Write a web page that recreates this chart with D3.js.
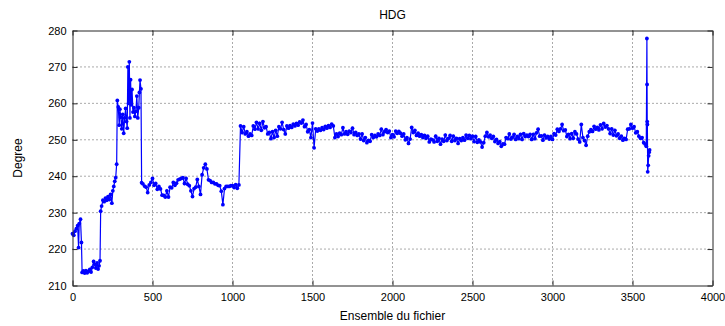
<!DOCTYPE html>
<html>
<head>
<meta charset="utf-8">
<script src="https://cdn.jsdelivr.net/npm/d3@7"></script>
<style>
  html, body { margin: 0; padding: 0; background: #fff; }
  svg { display: block; font-family: "Liberation Sans", Arial, sans-serif; }
</style>
</head>
<body>
<svg id="chart" width="725" height="326"></svg>
<script>
// ---- Data ----
const chartTitle = "HDG";
const xLabel = "Ensemble du fichier";
const yLabel = "Degree";
const xTicks = [0, 500, 1000, 1500, 2000, 2500, 3000, 3500, 4000];
const yTicks = [210, 220, 230, 240, 250, 260, 270, 280];

// Start of record: [sample index, heading in degrees]
const hdgStart = [
  [0,224.2],[8,223.8],[16,224.9],[24,225.6],[32,226.4],[38,220.4],[42,227.0],[50,228.2],[56,221.8],
  [60,213.6],[68,214.0],[76,213.4],[84,214.1],[92,213.5],[100,213.9],[108,214.4],[116,213.7],[124,215.0],
  [132,216.6],[138,215.8],[146,214.8],[154,216.2],[160,214.5],[166,215.4],[172,216.8],[176,230.4],
  [182,231.8],[190,233.4],[198,233.0],[206,234.0],[214,233.4],[222,234.4],[230,233.6],[238,235.0],
  [246,232.6],[252,236.0],[258,237.2],[264,238.6],[270,239.6],[276,243.3],[280,260.8],[286,259.0],
  [292,254.0],[296,258.4],[302,256.2],[308,253.0],[314,257.0],[320,251.8],[326,256.0],[332,258.6],
  [338,255.0],[342,253.2],[346,270.0],[350,260.0],[355,271.4],[359,256.0],[363,266.5],[367,259.6],
  [372,263.8],[378,257.6],[384,258.8],[390,256.4],[396,257.8],[402,262.0],[408,256.0],[414,258.8],
  [418,263.0],[422,266.4],[428,264.0],[432,238.2]
];

// Plateau around 237 deg, one value every 10 samples from index 440
const plateauStart = 440;
const plateauValues = [
  237.9, 237.3, 237.0, 235.5, 237.6, 238.3, 239.4, 237.5, 238.0, 236.4,
  237.2, 236.5, 234.8, 234.7, 234.3, 236.0, 234.3, 237.0, 236.8, 238.3,
  237.5, 238.1, 239.0, 239.2, 239.4, 239.6, 238.0, 239.4, 237.8, 237.4,
  236.0, 234.4, 236.6, 237.0, 239.1, 237.2, 235.0, 240.4, 242.3, 243.3,
  242.0, 239.0, 238.8, 238.3, 238.3, 237.9, 237.9, 237.5, 237.4, 235.9,
  232.2, 236.6, 237.2, 237.2, 237.2, 237.4, 237.4, 236.9, 237.7, 236.7,
  237.6
];

// Cruise around 251 deg, one value every 10 samples from index 1050
const cruiseStart = 1050;
const cruiseValues = [
  253.8, 252.0, 253.6, 251.6, 252.2, 251.0, 251.6, 251.2, 253.8, 252.9,
  254.8, 253.0, 254.5, 252.6, 255.0, 253.3, 253.6, 251.6, 252.0, 250.3,
  252.2, 250.6, 252.6, 251.0, 253.6, 253.0, 254.8, 252.8, 251.6, 253.8,
  253.2, 253.9, 253.4, 254.3, 253.8, 254.5, 254.0, 254.9, 254.6, 255.4,
  253.6, 254.2, 252.2, 252.8, 250.6, 254.6, 247.8, 253.0, 252.4, 253.0,
  252.6, 253.3, 252.8, 253.7, 253.2, 253.9, 253.4, 254.3, 253.8, 250.6,
  251.6, 250.9, 251.8, 251.4, 253.3, 251.6, 252.2, 251.5, 252.4, 252.0,
  253.2, 251.4, 252.0, 251.2, 251.6, 250.2, 251.6, 249.8, 250.6, 249.2,
  249.8, 249.6, 251.4, 250.6, 251.2, 250.8, 251.6, 251.2, 252.9, 251.4,
  252.2, 252.8, 252.0, 252.4, 250.6, 251.4, 250.8, 252.4, 251.8, 252.3,
  251.8, 251.0, 251.6, 250.0, 250.6, 249.0, 250.2, 253.4, 252.0, 252.6,
  251.2, 251.8, 251.0, 251.4, 250.6, 251.2, 250.4, 251.0, 249.4, 250.2,
  250.0, 249.4, 251.0, 249.6, 250.4, 248.8, 250.2, 249.6, 251.3, 249.8,
  250.4, 251.2, 249.6, 251.0, 249.8, 250.4, 249.0, 250.3, 249.8, 250.6,
  249.9, 251.3, 250.4, 251.2, 250.3, 251.0, 249.5, 250.9, 249.3, 250.0,
  249.4, 248.0, 249.2, 251.0, 252.0, 250.8, 251.3, 250.4, 250.9, 249.5,
  250.1, 249.0, 249.5, 248.2, 248.9, 248.8, 250.6, 250.3, 251.6, 250.2,
  250.7, 251.5, 250.1, 250.9, 250.3, 251.5, 250.1, 251.7, 250.9, 251.3,
  250.9, 251.5, 250.1, 251.5, 250.3, 251.9, 252.9, 251.0, 251.1, 249.9,
  251.3, 250.5, 250.9, 250.2, 250.9, 250.1, 251.7, 251.3, 252.9, 252.3,
  253.0, 254.2, 252.5, 252.7, 250.9, 251.5, 250.3, 251.7, 250.4, 252.2,
  251.6, 250.2, 249.4, 254.2, 250.6, 249.8, 248.5, 251.0, 252.2, 252.8,
  252.3, 253.7, 252.9, 253.4, 252.7, 254.1, 253.0, 254.5, 253.5, 253.9,
  253.0, 251.7, 253.0, 251.3, 252.6, 251.1, 251.6, 250.4, 251.0, 249.9,
  250.4, 250.1, 252.9, 253.0, 254.2, 253.2, 253.6, 251.9, 252.2, 251.0,
  250.4, 250.6, 249.2, 248.8
];
const sampleStep = 10;

// End of record with the spike: [sample index, heading in degrees]
const hdgEnd = [
  [3586,248.2],[3590,277.8],[3591,265.2],[3592,255.0],[3593,254.2],[3595,241.2],
  [3598,243.0],[3601,245.6],[3604,246.6],[3607,247.2]
];

// ---- Build the series ----
const series = [
  ...hdgStart.map(([i, v]) => ({ i, v })),
  ...plateauValues.map((v, k) => ({ i: plateauStart + k * sampleStep, v })),
  ...cruiseValues.map((v, k) => ({ i: cruiseStart + k * sampleStep, v })),
  ...hdgEnd.map(([i, v]) => ({ i, v }))
];

// ---- Layout ----
const svg = d3.select("#chart");
const L = 72.5, T = 30.5, W = 640, H = 255;
const x = d3.scaleLinear().domain([0, 4000]).range([L, L + W]);
const y = d3.scaleLinear().domain([210, 280]).range([T + H, T]);
const axisColor = "#262626";

// Grid (dotted)
const grid = svg.append("g");
grid.selectAll("line.gx").data(xTicks.slice(1, -1)).join("line")
  .attr("x1", d => x(d)).attr("x2", d => x(d))
  .attr("y1", T).attr("y2", T + H)
  .attr("stroke", "#555").attr("stroke-width", 1).attr("stroke-dasharray", "1,3");
grid.selectAll("line.gy").data(yTicks.slice(1, -1)).join("line")
  .attr("x1", L).attr("x2", L + W)
  .attr("y1", d => y(d)).attr("y2", d => y(d))
  .attr("stroke", "#555").attr("stroke-width", 1).attr("stroke-dasharray", "1,3");

// Data line and markers
const line = d3.line().x(d => x(d.i)).y(d => y(d.v));
svg.append("path").datum(series)
  .attr("d", line).attr("fill", "none")
  .attr("stroke", "#0000ff").attr("stroke-width", 1.2);
svg.append("g").selectAll("circle").data(series).join("circle")
  .attr("cx", d => x(d.i)).attr("cy", d => y(d.v))
  .attr("r", 1.9).attr("fill", "#0000ff");

// Axes (MATLAB style: ticks inward on all sides, box)
const tickLen = 5;
const fmt = d3.format("d");
const axB = d3.axisBottom(x).tickValues(xTicks).tickFormat(fmt).tickSizeInner(-tickLen).tickSizeOuter(0).tickPadding(8);
const axT = d3.axisTop(x).tickValues(xTicks).tickSizeInner(-tickLen).tickSizeOuter(0).tickFormat("");
const axL = d3.axisLeft(y).tickValues(yTicks).tickFormat(fmt).tickSizeInner(-tickLen).tickSizeOuter(0).tickPadding(6);
const axR = d3.axisRight(y).tickValues(yTicks).tickSizeInner(-tickLen).tickSizeOuter(0).tickFormat("");

function styleAxis(g) {
  g.selectAll("path").attr("stroke", axisColor);
  g.selectAll("line").attr("stroke", axisColor);
  g.selectAll("text").attr("fill", "#000")
    .style("font-family", "'Liberation Sans', Arial, sans-serif")
    .style("font-size", "11px");
}
svg.append("g").attr("transform", `translate(0,${T + H})`).call(axB).call(styleAxis);
svg.append("g").attr("transform", `translate(0,${T})`).call(axT).call(styleAxis);
svg.append("g").attr("transform", `translate(${L},0)`).call(axL).call(styleAxis);
svg.append("g").attr("transform", `translate(${L + W},0)`).call(axR).call(styleAxis);

// Titles
svg.append("text").attr("x", L + W / 2).attr("y", 19)
  .attr("text-anchor", "middle").attr("font-size", 12).text(chartTitle);
svg.append("text").attr("x", L + W / 2).attr("y", 320)
  .attr("text-anchor", "middle").attr("font-size", 12).text(xLabel);
svg.append("text").attr("transform", `translate(22,${T + H / 2}) rotate(-90)`)
  .attr("text-anchor", "middle").attr("font-size", 12).text(yLabel);
</script>
</body>
</html>
